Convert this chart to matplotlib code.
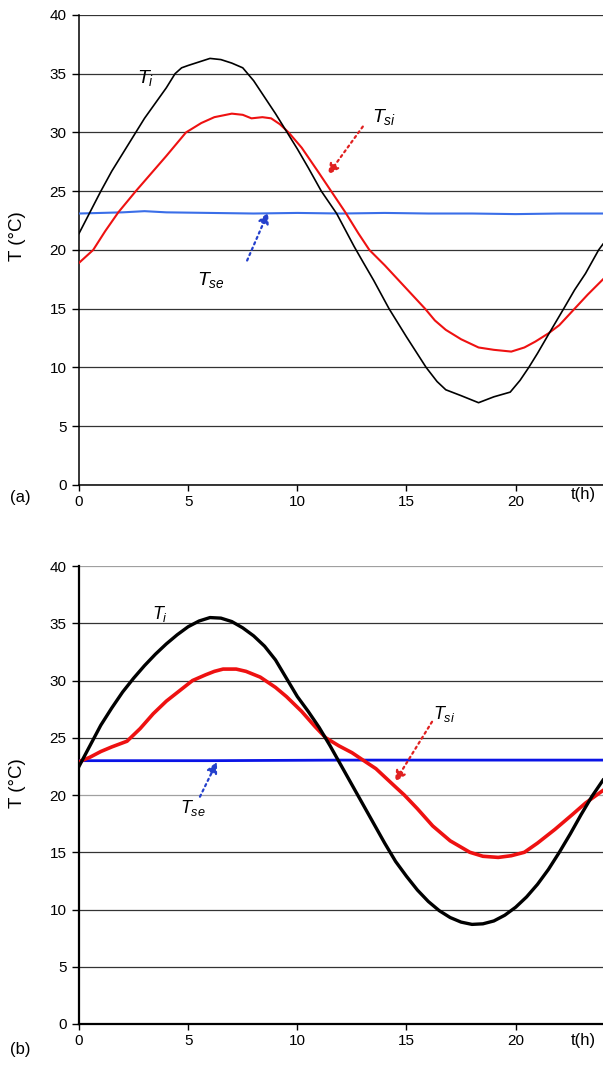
import matplotlib
matplotlib.use("Agg")
import matplotlib.pyplot as plt

plt.rcParams['font.family'] = ['Liberation Sans', 'DejaVu Sans']
plt.rcParams['mathtext.fontset'] = 'custom'
plt.rcParams['mathtext.it'] = 'Liberation Sans:italic'
plt.rcParams['mathtext.rm'] = 'Liberation Sans'

# ---------------- data: panel (a) ----------------
a_ti_t = [0, 0.5, 1.0, 1.5, 2.0, 2.6, 3.0, 3.5, 4.0, 4.4, 4.7, 5.0, 5.5, 6.0, 6.5, 7.0, 7.5,
          8.0, 8.5, 9.0, 9.5, 10.0, 10.5, 11.1, 11.8, 12.2, 12.6, 13.0, 13.5, 14.2, 15.0, 15.9,
          16.4, 16.8, 17.5, 18.3, 19.0, 19.75, 20.2, 20.6, 21.0, 21.5, 22.2, 22.7, 23.2, 23.8, 24.0]
a_ti_v = [21.4, 23.2, 25.0, 26.7, 28.2, 30.0, 31.2, 32.5, 33.8, 35.0, 35.5, 35.7, 36.0, 36.3, 36.2, 35.9, 35.5,
          34.4, 33.0, 31.6, 30.1, 28.6, 27.0, 25.0, 23.1, 21.7, 20.3, 19.0, 17.4, 15.0, 12.6, 10.0,
          8.8, 8.1, 7.6, 7.0, 7.5, 7.9, 8.9, 10.0, 11.2, 12.8, 15.0, 16.6, 18.0, 20.0, 20.5]

a_tsi_t = [0, 0.65, 1.2, 1.8, 2.6, 3.3, 4.0, 4.9, 5.6, 6.2, 7.0, 7.5, 7.9, 8.4, 8.8, 9.2, 9.6,
           10.2, 10.9, 11.55, 12.2, 12.8, 13.3, 14.0, 14.6, 15.2, 15.85, 16.3, 16.8, 17.5, 18.3,
           19.0, 19.8, 20.4, 20.9, 21.5, 22.0, 22.7, 23.3, 24.0]
a_tsi_v = [18.9, 20.0, 21.6, 23.2, 25.0, 26.5, 28.0, 30.0, 30.8, 31.3, 31.6, 31.5, 31.2, 31.3, 31.2, 30.7, 30.0,
           28.7, 26.8, 25.0, 23.2, 21.4, 20.0, 18.7, 17.5, 16.3, 15.0, 14.0, 13.2, 12.4, 11.7,
           11.5, 11.35, 11.7, 12.2, 12.9, 13.6, 15.0, 16.2, 17.5]

a_tse_t = [0, 1, 2, 3, 4, 6, 8, 10, 12, 14, 16, 18, 20, 22, 24]
a_tse_v = [23.1, 23.15, 23.2, 23.3, 23.2, 23.15, 23.1, 23.15, 23.1, 23.15, 23.1, 23.1, 23.05, 23.1, 23.1]

# ---------------- data: panel (b) ----------------
b_ti_t = [0, 0.5, 1.0, 1.5, 2.0, 2.5, 3.0, 3.5, 4.0, 4.5, 5.0, 5.5, 6.0, 6.5, 7.0, 7.5, 8.0,
          8.5, 9.0, 9.5, 10.0, 10.5, 11.0, 11.5, 12.0, 12.5, 13.0, 13.5, 14.0, 14.5, 15.0, 15.5,
          16.0, 16.5, 17.0, 17.5, 18.0, 18.5, 19.0, 19.5, 20.0, 20.5, 21.0, 21.5, 22.0, 22.5,
          23.0, 23.5, 24.0]
b_ti_v = [22.5, 24.3, 26.1, 27.6, 29.0, 30.2, 31.3, 32.3, 33.2, 34.0, 34.7, 35.2, 35.5, 35.45, 35.15, 34.6, 33.9,
          33.0, 31.8, 30.2, 28.6, 27.3, 25.9, 24.3, 22.6, 20.9, 19.2, 17.5, 15.8, 14.2, 12.9, 11.7,
          10.7, 9.9, 9.3, 8.9, 8.7, 8.75, 9.0, 9.5, 10.2, 11.1, 12.2, 13.5, 15.0, 16.6,
          18.3, 19.9, 21.3]

b_tsi_t = [0, 0.5, 1.0, 1.5, 2.2, 2.8, 3.4, 4.0, 4.6, 5.2, 5.8, 6.2, 6.6, 7.2, 7.65, 8.3, 9.0, 9.5,
           10.2, 10.8, 11.3, 11.9, 12.5, 13.0, 13.6, 14.5, 14.9, 15.5, 16.2, 17.0, 17.9, 18.5,
           19.2, 19.8, 20.4, 21.0, 21.8, 22.6, 23.2, 23.6, 24.0]
b_tsi_v = [22.9, 23.3, 23.8, 24.2, 24.7, 25.8, 27.1, 28.2, 29.1, 30.0, 30.5, 30.8, 31.0, 31.0, 30.8, 30.3, 29.4, 28.6,
           27.3, 26.0, 25.0, 24.3, 23.7, 23.06, 22.3, 20.7, 20.0, 18.8, 17.3, 16.0, 15.0, 14.65,
           14.55, 14.7, 15.0, 15.8, 17.0, 18.3, 19.3, 19.85, 20.4]

b_tse_t = [0, 6, 12, 18, 24]
b_tse_v = [23.0, 23.0, 23.05, 23.05, 23.05]

yticks = [0, 5, 10, 15, 20, 25, 30, 35, 40]
xticks = [0, 5, 10, 15, 20]

fig = plt.figure(figsize=(6.03, 10.67), dpi=100)
ax1 = fig.add_axes([0.131, 0.5455, 0.869, 0.4405])
ax2 = fig.add_axes([0.131, 0.0403, 0.869, 0.4292])


def style(ax, spine_lw):
    ax.set_xlim(0, 24)
    ax.set_ylim(0, 40)
    ax.set_yticks(yticks)
    ax.set_xticks(xticks)
    ax.tick_params(axis='y', direction='out', length=5, width=1.0, pad=4, labelsize=11)
    ax.tick_params(axis='x', direction='out', length=4, width=1.0, pad=3, labelsize=11)
    for s in ['top', 'right']:
        ax.spines[s].set_visible(False)
    for s in ['left', 'bottom']:
        ax.spines[s].set_linewidth(spine_lw)
    ax.set_axisbelow(True)
    ax.yaxis.grid(True, color='#333333', lw=0.9)
    ax.set_ylabel('T (°C)', fontsize=13.5)


style(ax1, 1.1)
style(ax2, 1.6)
ax1.yaxis.set_label_coords(-0.102, 0.53)
ax2.yaxis.set_label_coords(-0.102, 0.526)
gl = ax2.get_ygridlines()
for i, g in enumerate(gl):
    if yticks[i] in (20, 40):
        g.set_color('#a0a0a0')

# panel (a)
ax1.plot(a_tse_t, a_tse_v, color='#3a6ee8', lw=1.5, zorder=3)
ax1.plot(a_tsi_t, a_tsi_v, color='#ee1111', lw=1.5, zorder=4)
ax1.plot(a_ti_t, a_ti_v, color='black', lw=1.2, zorder=5)

ax1.text(2.65, 34.6, r'$T_i$', fontsize=14, ha='left', va='center')
ax1.text(13.4, 31.3, r'$T_{si}$', fontsize=14, ha='left', va='center')
ax1.text(5.4, 17.45, r'$T_{se}$', fontsize=14, ha='left', va='center')
ax1.annotate('', xy=(11.4, 26.4), xytext=(13.0, 30.5),
             arrowprops=dict(arrowstyle='-|>', linestyle=':', lw=1.6, color='#e02020',
                             mutation_scale=16, shrinkA=0, shrinkB=0), zorder=6)
ax1.annotate('', xy=(8.66, 23.2), xytext=(7.7, 19.1),
             arrowprops=dict(arrowstyle='-|>', linestyle=':', lw=1.6, color='#2440cc',
                             mutation_scale=16, shrinkA=0, shrinkB=0), zorder=6)

# panel (b)
ax2.plot(b_tse_t, b_tse_v, color='#0a14e6', lw=2.0, zorder=3)
ax2.plot(b_tsi_t, b_tsi_v, color='#ee1111', lw=2.6, zorder=4)
ax2.plot(b_ti_t, b_ti_v, color='black', lw=2.4, zorder=5)

ax2.text(3.34, 35.8, r'$T_i$', fontsize=13, ha='left', va='center')
ax2.text(16.2, 27.1, r'$T_{si}$', fontsize=13, ha='left', va='center')
ax2.text(4.63, 18.9, r'$T_{se}$', fontsize=13, ha='left', va='center')
ax2.annotate('', xy=(14.47, 21.15), xytext=(16.17, 26.4),
             arrowprops=dict(arrowstyle='-|>', linestyle=':', lw=1.6, color='#e02020',
                             mutation_scale=16, shrinkA=0, shrinkB=0), zorder=6)
ax2.annotate('', xy=(6.32, 22.9), xytext=(5.54, 19.85),
             arrowprops=dict(arrowstyle='-|>', linestyle=':', lw=1.6, color='#2440cc',
                             mutation_scale=16, shrinkA=0, shrinkB=0), zorder=6)

fig.text(0.017, 0.534, '(a)', fontsize=12, ha='left', va='center')
fig.text(0.947, 0.537, 't(h)', fontsize=12, ha='left', va='center')
fig.text(0.017, 0.016, '(b)', fontsize=12, ha='left', va='center')
fig.text(0.947, 0.025, 't(h)', fontsize=12, ha='left', va='center')

fig.savefig('out.png', dpi=100)
